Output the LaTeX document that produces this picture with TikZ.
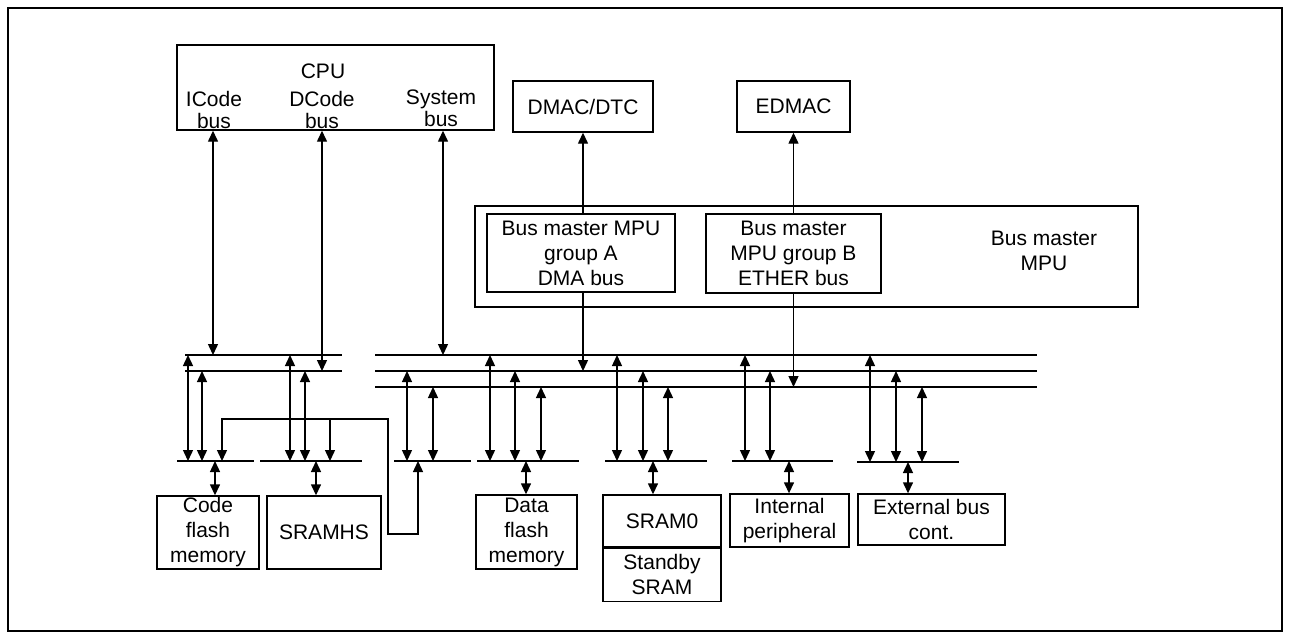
\documentclass[tikz,border=0pt]{standalone}
\usepackage{fontspec}
\setmainfont{Liberation Sans}
\usetikzlibrary{arrows.meta,calc}
\begin{document}
\begin{tikzpicture}[x=0.5pt,y=-0.5pt,
  ln/.style={line width=0.7pt},
  box/.style={draw,line width=0.7pt,inner sep=0pt,align=center,font=\fontsize{10.5}{12.5}\selectfont},
  lbl/.style={inner sep=0pt,align=center,font=\fontsize{10.5}{11}\selectfont},
  >={Triangle[width=5pt,length=5.5pt]},
  bi/.style={ln,<->},
  uni/.style={ln,->}]
\useasboundingbox (0,0) rectangle (1290,639);
\draw[line width=0.8pt] (8,8) rectangle (1282,631);

% top masters
\node[box,minimum width=158.5pt,minimum height=42.5pt] (cpu) at (335.5,87.5) {};
\node[lbl] (cpulbl) at (323,71) {CPU};
\node[lbl] (icode) at (214,110) {ICode\\bus};
\node[lbl] (dcode) at (322,110) {DCode\\bus};
\node[lbl] (sys) at (441,108) {System\\bus};
\node[box,minimum width=70pt,minimum height=25.5pt] (dmac) at (583,106.5) {DMAC/DTC};
\node[box,minimum width=56.5pt,minimum height=25.5pt] (edmac) at (793.5,106.5) {EDMAC};

% MPU
\node[box,minimum width=331.5pt,minimum height=50.5pt] (mpu) at (806.5,256.5) {};
\node[lbl,font=\fontsize{10.5}{12.5}\selectfont] (mpulbl) at (1044,251) {Bus master\\MPU};
\node[box,minimum width=94pt,minimum height=39pt] (gA) at (581,253) {Bus master MPU\\group A\\DMA bus};
\node[box,minimum width=87.5pt,minimum height=39.5pt] (gB) at (793.5,253.5) {Bus master\\MPU group B\\ETHER bus};

% slaves
\node[box,minimum width=51pt,minimum height=36.5pt] (cf) at (208,532.5) {Code\\flash\\memory};
\node[box,minimum width=57pt,minimum height=36.5pt] (hs) at (324,532.5) {SRAMHS};
\node[box,minimum width=50.5pt,minimum height=37pt] (df) at (526.5,532) {Data\\flash\\memory};
\node[box,minimum width=59pt,minimum height=26pt] (s0) at (662,521) {SRAM0};
\node[box,minimum width=59pt,minimum height=26.5pt,anchor=north] (sb) at (s0.south) {Standby\\SRAM};
\node[box,minimum width=59.5pt,minimum height=26.5pt] (ip) at (789.5,520.5) {Internal\\peripheral};
\node[box,minimum width=73.5pt,minimum height=25.5pt] (eb) at (931.5,519.5) {External bus\\cont.};

% bus lines
\coordinate (lA1) at (185,355); \coordinate (lA2) at (342,355);
\coordinate (lB1) at (185,371); \coordinate (lB2) at (342,371);
\coordinate (r1a) at (375,355); \coordinate (r1b) at (1037,355);
\coordinate (r2a) at (375,371); \coordinate (r2b) at (1037,371);
\coordinate (r3a) at (375,387); \coordinate (r3b) at (1037,387);
\draw[ln] (lA1) -- (lA2); \draw[ln] (lB1) -- (lB2);
\draw[ln] (r1a) -- (r1b); \draw[ln] (r2a) -- (r2b); \draw[ln] (r3a) -- (r3b);

% slave-side bus segments
\coordinate (g1a) at (177,461); \coordinate (g1b) at (254,461);
\coordinate (g2a) at (260,461); \coordinate (g2b) at (362,461);
\coordinate (g3a) at (394,461); \coordinate (g3b) at (471,461);
\coordinate (g4a) at (477,461); \coordinate (g4b) at (579,461);
\coordinate (g5a) at (605,461); \coordinate (g5b) at (707,461);
\coordinate (g6a) at (732,461); \coordinate (g6b) at (833,461);
\coordinate (g7a) at (857,462); \coordinate (g7b) at (959,462);
\foreach \g in {1,...,7} {\draw[ln] (g\g a) -- (g\g b);}

% CPU buses
\draw[bi] (cpu.south -| 213,0) -- (213,0 |- lA1);
\draw[bi] (cpu.south -| 322,0) -- (322,0 |- lB1);
\draw[bi] (cpu.south -| 443,0) -- (443,0 |- r1a);

% DMA / ETHER
\draw[uni] (gA.north -| dmac.south) -- (dmac.south);
\draw[uni] (gA.south -| dmac.south) -- (dmac.south |- r2a);
\draw[uni] (gB.north -| edmac.south) -- (edmac.south);
\draw[uni] (gB.south -| edmac.south) -- (edmac.south |- r3a);

% bus to slave-side segments
\foreach \x/\t/\b in {188/lA1/g1a, 202/lB1/g1a, 290/lA1/g2a, 305/lB1/g2a,
  407/r2a/g3a, 433/r3a/g3a,
  490/r1a/g4a, 515/r2a/g4a, 541/r3a/g4a,
  617/r1a/g5a, 643/r2a/g5a, 668/r3a/g5a,
  745/r1a/g6a, 770/r2a/g6a,
  870/r1a/g7a, 896/r2a/g7a, 922/r3a/g7a}
  {\draw[bi] (\x,0 |- \t) -- (\x,0 |- \b);}

% loop from system bus segment to code flash / SRAMHS
\coordinate (lp1) at (222,419); \coordinate (lp2) at (388,419);
\coordinate (lp3) at (388,534); \coordinate (lp4) at (418,534);
\draw[bi] (222,0 |- g1a) -- (lp1) -- (lp2) -- (lp3) -- (lp4) -- (418,0 |- g3a);
\draw[uni] (330,0 |- lp1) -- (330,0 |- g2a);

% segments to slaves
\draw[bi] (215,0 |- g1a) -- (cf.north -| 215,0);
\draw[bi] (316,0 |- g2a) -- (hs.north -| 316,0);
\draw[bi] (526,0 |- g4a) -- (df.north -| 526,0);
\draw[bi] (653,0 |- g5a) -- (s0.north -| 653,0);
\draw[bi] (789,0 |- g6a) -- (ip.north -| 789,0);
\draw[bi] (908,0 |- g7a) -- (eb.north -| 908,0);
\end{tikzpicture}
\end{document}
